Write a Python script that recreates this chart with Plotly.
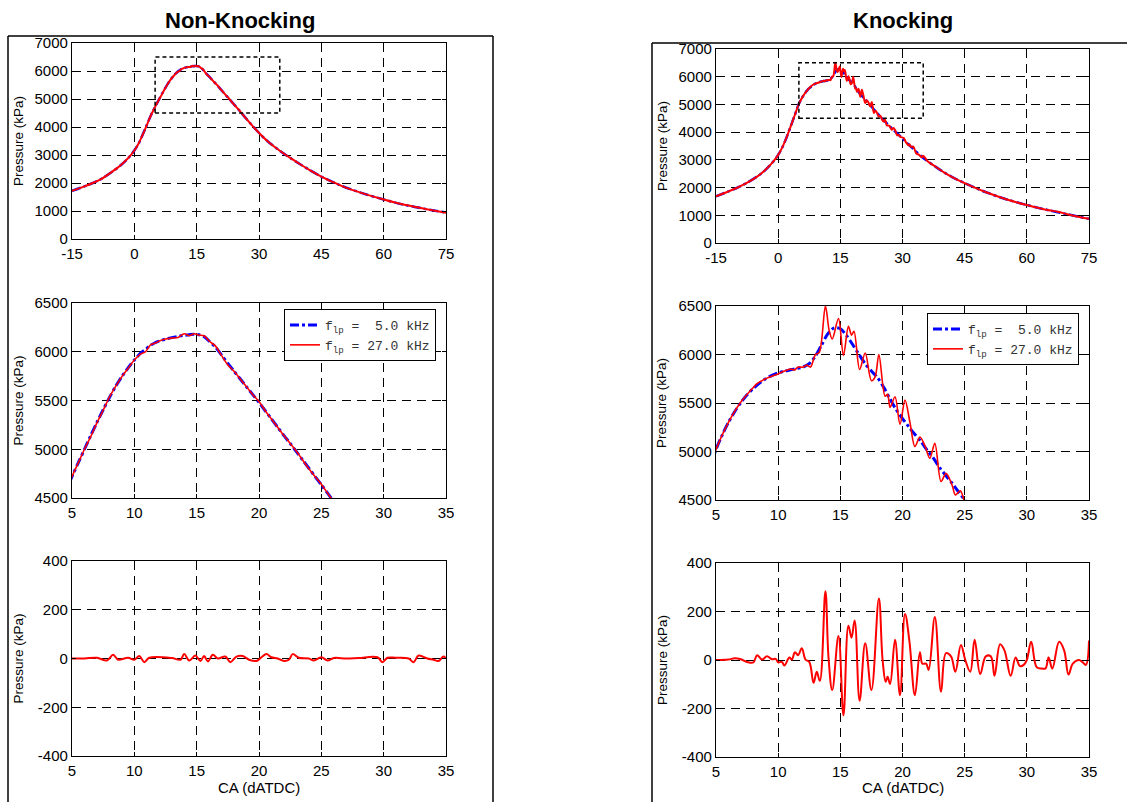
import plotly.graph_objects as go

# ---------------- DATA ----------------
# Non-knocking: crank angle and pressure (kPa)
ca_nk = [-15, -12, -10, -8, -5, -4, -3, -2, -1, 0, 1, 2, 3, 4, 5, 5.5, 6, 6.5, 7, 7.5, 8, 8.5,
         9, 9.5, 10, 10.5, 10.9, 11.3, 11.7, 12, 12.5, 13, 13.5, 14, 14.4, 14.8, 15.2, 15.6,
         16, 16.5, 17, 17.5, 18, 18.5, 19, 19.5, 20, 20.5, 21, 21.5, 22, 22.5, 23, 23.5, 24,
         24.5, 25, 25.5, 26, 27, 28, 29, 30, 32, 35, 38, 40, 42, 45, 48, 50, 55, 60, 65, 70, 75]
p_nk_5 = [1720, 1880, 2000, 2140, 2440, 2550, 2670, 2810, 2970, 3160, 3400, 3720, 4070, 4420,
          4720, 4860, 5000, 5140, 5275, 5405, 5530, 5645, 5745, 5835, 5915, 5985, 6025, 6065,
          6095, 6110, 6130, 6145, 6158, 6168, 6175, 6180, 6175, 6155, 6110, 6050, 5965, 5880,
          5800, 5720, 5640, 5560, 5480, 5395, 5310, 5225, 5140, 5060, 4975, 4890, 4805, 4720,
          4635, 4550, 4460, 4285, 4115, 3950, 3790, 3500, 3150, 2850, 2660, 2480, 2230, 2020,
          1890, 1630, 1410, 1220, 1075, 940]
p_nk_27 = [1720, 1880, 2000, 2140, 2440, 2550, 2670, 2810, 2970, 3160, 3400, 3720, 4070, 4420,
           4720, 4860, 5000, 5130, 5270, 5400, 5535, 5645, 5745, 5830, 5915, 5975, 6000, 6070,
           6090, 6110, 6130, 6140, 6145, 6185, 6165, 6185, 6170, 6165, 6110, 6060, 5960, 5865,
           5800, 5720, 5640, 5560, 5490, 5395, 5310, 5225, 5140, 5060, 4980, 4890, 4800, 4720,
           4640, 4550, 4460, 4285, 4115, 3950, 3790, 3500, 3150, 2850, 2660, 2480, 2230, 2020,
           1890, 1630, 1410, 1220, 1075, 940]

# Knocking: 5 kHz low-pass
ca_k5 = [-15, -12, -10, -8, -5, -4, -3, -2, -1, 0, 1, 2, 3, 4, 5, 5.5, 6, 6.5, 7, 7.5, 8, 8.5,
         9, 9.5, 10, 10.5, 11, 11.5, 12, 12.5, 13, 13.5, 14, 14.5, 15, 15.5, 16, 16.5, 17,
         17.5, 18, 18.5, 19, 19.5, 20, 20.5, 21, 21.5, 22, 22.5, 23, 23.5, 24, 24.5, 25, 26,
         27, 28, 30, 32, 35, 38, 40, 42, 45, 48, 50, 55, 60, 65, 70, 75]
p_k_5 = [1684, 1860, 1985, 2130, 2406, 2520, 2650, 2800, 2970, 3180, 3450, 3800, 4200, 4610,
         5020, 5170, 5300, 5410, 5505, 5585, 5650, 5705, 5750, 5785, 5810, 5828, 5842, 5856,
         5870, 5905, 5985, 6100, 6215, 6275, 6265, 6195, 6100, 6000, 5905, 5830, 5760, 5660,
         5540, 5430, 5340, 5255, 5175, 5100, 5010, 4930, 4830, 4750, 4670, 4585, 4500, 4350,
         4200, 4060, 3770, 3480, 3070, 2750, 2550, 2380, 2160, 1960, 1840, 1580, 1370, 1190,
         1030, 870]

# Knocking: 27 kHz low-pass
ca_k27 = [-15, -12, -10, -8, -5, -4, -3, -2, -1, 0, 1, 2, 3, 4, 5, 6, 7, 8, 8.3, 9, 10, 10.5,
          11, 11.3, 11.6, 12, 12.3, 12.6, 13.0, 13.3, 13.8, 14.1, 14.35, 14.85, 15.25, 15.65,
          15.9, 16.1, 16.55, 17.0, 17.5, 17.8, 18.1, 18.6, 18.8, 19.0, 19.4, 19.8, 20.2, 20.6,
          21.0, 21.4, 21.8, 22.2, 22.6, 23.1, 23.5, 24.0, 24.25, 24.65, 25.0, 25.4, 25.8,
          26.2, 26.8, 27.4, 27.8, 28.2, 28.7, 29.1, 29.5, 30.3, 30.8, 31.5, 31.7, 32.0, 32.6,
          33.3, 34.0, 34.7, 35.0, 36, 38, 40, 42, 45, 48, 50, 55, 60, 65, 67.5, 70, 75]
p_k_27 = [1684, 1860, 1985, 2130, 2406, 2520, 2650, 2800, 2970, 3180, 3450, 3800, 4200, 4610,
          5020, 5300, 5510, 5660, 5700, 5750, 5800, 5830, 5850, 5840, 5870, 5870, 5890, 5870,
          6000, 6020, 6500, 6250, 6160, 6370, 5990, 6290, 6200, 6240, 5845, 6015, 5730, 5770,
          6000, 5570, 5590, 5455, 5565, 5280, 5530, 5300, 5050, 5150, 5060, 4930, 5085, 4690,
          4775, 4650, 4552, 4595, 4480, 4380, 4450, 4250, 4230, 4085, 4150, 4080, 3885, 3900,
          3830, 3785, 3640, 3525, 3560, 3470, 3475, 3240, 3180, 3090, 3150, 2960, 2750, 2550,
          2380, 2160, 1960, 1840, 1580, 1370, 1190, 1130, 1030, 870]

# High-frequency (knock) component
ca_hp_nk = [5, 6, 7, 7.8, 8.3, 8.7, 9.5, 10, 10.4, 10.8, 11.2, 13, 13.7, 14, 14.4, 14.9, 15.3,
            15.6, 15.9, 16.3, 16.7, 17.3, 17.7, 18.2, 18.7, 19.2, 19.8, 20.2, 20.6, 21, 21.5,
            22, 22.4, 22.7, 23.2, 24, 24.4, 25, 25.5, 26, 27, 28, 29.5, 29.9, 30.3, 31, 32,
            32.4, 32.8, 33.5, 34, 34.4, 34.8, 35]
hp_nk = [0, 0, 3, -8, 15, -5, 3, -5, 10, -15, 3, 2, -5, 18, -8, 12, -10, 10, -12, 15, 0, 8,
         -15, 8, 10, -5, -10, 5, 18, 5, 0, -10, -5, 18, 3, 0, -8, 5, -8, 2, 0, 2, 5, -15, 3, 3,
         0, -15, 12, 0, -5, -10, 8, 0]

ca_hp_k = [5, 6, 6.5, 7, 7.5, 8, 8.3, 8.7, 9.1, 9.5, 9.8, 10, 10.3, 10.5, 10.9, 11.1, 11.35,
           11.6, 11.9, 12.2, 12.5, 12.85, 13.1, 13.35, 13.8, 14.05, 14.35, 14.85, 15.25, 15.65,
           15.9, 16.15, 16.55, 17.0, 17.5, 18.1, 18.4, 18.65, 18.8, 19.0, 19.4, 19.8, 20.2,
           20.55, 21.0, 21.4, 21.6, 21.9, 22.1, 22.6, 23.1, 23.5, 23.9, 24.25, 24.7, 25.05,
           25.45, 25.8, 26.25, 26.7, 27.1, 27.4, 27.85, 28.2, 28.7, 29.1, 29.45, 29.75, 30.0,
           30.35, 30.8, 31.2, 31.5, 31.75, 32.05, 32.6, 33.0, 33.35, 33.7, 34.2, 34.5, 34.75, 35.0]
hp_k = [0, 2, 7, 3, -8, -10, 20, 2, 15, 3, 5, -10, -8, -23, 10, 2, 32, 20, 48, 2, -8, -94, -48,
        -86, 283, 10, -124, 99, -228, 141, 92, 163, -168, 69, -124, 254, 0, -90, -69, -99, 83,
        -145, 190, 80, -145, 32, -15, -15, -41, 177, -131, 28, 15, -48, 62, 0, -48, 83, -58,
        15, 15, -65, 65, 40, -65, 10, -25, -20, 0, 75, -30, -35, -35, 10, -35, 75, 40, -60,
        -15, 0, -10, -20, 80]

titles = ["Non-Knocking", "Knocking"]
legend_names = ["f<sub>lp</sub>\u00a0=\u00a0\u00a05.0\u00a0kHz", "f<sub>lp</sub>\u00a0=\u00a027.0\u00a0kHz"]
y_title = "Pressure (kPa)"
x_title = "CA (dATDC)"
ticks_top_x = [-15, 0, 15, 30, 45, 60, 75]
ticks_top_y = [0, 1000, 2000, 3000, 4000, 5000, 6000, 7000]
ticks_mid_x = [5, 10, 15, 20, 25, 30, 35]
ticks_mid_y = [4500, 5000, 5500, 6000, 6500]
ticks_bot_y = [-400, -200, 0, 200, 400]

# ---------------- LAYOUT GEOMETRY (pixels) ----------------
W, H = 1127, 802
def fx(px): return px / W
def fy(py): return 1 - py / H

BLUE = "#0000ff"
RED = "#ff0000"

fig = go.Figure()

def add(x, y, ax, color, width, dash, smooth, name=None, legend=None):
    fig.add_trace(go.Scatter(
        x=x, y=y, mode="lines", xaxis="x" + ax, yaxis="y" + ax,
        line=dict(color=color, width=width, dash=dash, shape="spline", smoothing=smooth),
        name=name, showlegend=legend is not None, legend=legend, hoverinfo="skip"))

# left column
add(ca_nk, p_nk_5, "", BLUE, 2.5, "dashdot", 0.9)
add(ca_nk, p_nk_27, "", RED, 2, "solid", 0.9)
add(ca_nk, p_nk_5, "2", BLUE, 3, "dashdot", 0.8, legend_names[0], "legend")
add(ca_nk, p_nk_27, "2", RED, 1.6, "solid", 0.8, legend_names[1], "legend")
add(ca_hp_nk, hp_nk, "3", RED, 2, "solid", 1.0)
# right column
add(ca_k5, p_k_5, "4", BLUE, 2.5, "dashdot", 0.9)
add(ca_k27, p_k_27, "4", RED, 2, "solid", 0.8)
add(ca_k5, p_k_5, "5", BLUE, 3, "dashdot", 0.8, legend_names[0], "legend2")
add(ca_k27, p_k_27, "5", RED, 1.6, "solid", 0.9, legend_names[1], "legend2")
add(ca_hp_k, hp_k, "6", RED, 2, "solid", 1.1)

font_fam = "Liberation Sans, Arial, Helvetica, sans-serif"
axis_common = dict(
    showline=True, linecolor="black", linewidth=1.2, mirror="ticks",
    ticks="inside", ticklen=4, tickcolor="black", tickwidth=1,
    showgrid=True, gridcolor="black", gridwidth=1, griddash="9px,6px",
    zeroline=False, tickfont=dict(family=font_fam, size=15, color="black"),
    fixedrange=True, automargin=False, tickmode="array",
)

def labels(vals):
    return [str(v) for v in vals]

# pixel extents: (x0, x1, ytop, ybottom)
panels = {
    "": (72, 446, 43, 239), "2": (72, 446, 303, 498), "3": (72, 446, 561, 756),
    "4": (716, 1089, 49, 243), "5": (716, 1089, 306, 500), "6": (716, 1089, 563, 757),
}
ranges = {
    "": ([-15, 75], [0, 7000], ticks_top_x, ticks_top_y),
    "2": ([5, 35], [4500, 6500], ticks_mid_x, ticks_mid_y),
    "3": ([5, 35], [-400, 400], ticks_mid_x, ticks_bot_y),
    "4": ([-15, 75], [0, 7000], ticks_top_x, ticks_top_y),
    "5": ([5, 35], [4500, 6500], ticks_mid_x, ticks_mid_y),
    "6": ([5, 35], [-400, 400], ticks_mid_x, ticks_bot_y),
}
layout_axes = {}
for k, (x0, x1, yt, yb) in panels.items():
    xr, yr, tx, ty = ranges[k]
    layout_axes["xaxis" + k] = dict(axis_common, domain=[fx(x0), fx(x1)], range=xr,
                                    tickvals=tx, ticktext=labels(tx), anchor="y" + k,
                                    ticklabelstandoff=1)
    layout_axes["yaxis" + k] = dict(axis_common, domain=[fy(yb), fy(yt)], range=yr,
                                    tickvals=ty, ticktext=labels(ty), anchor="x" + k)

annotations = []
# column titles
annotations.append(dict(text="<b>" + titles[0] + "</b>", x=fx(240), y=fy(21), xref="paper",
                        yref="paper", showarrow=False, xanchor="center", yanchor="middle",
                        font=dict(family=font_fam, size=22, color="black")))
annotations.append(dict(text="<b>" + titles[1] + "</b>", x=fx(903), y=fy(21), xref="paper",
                        yref="paper", showarrow=False, xanchor="center", yanchor="middle",
                        font=dict(family=font_fam, size=22, color="black")))
for k, (x0, x1, yt, yb) in panels.items():
    tx = 18 if x0 < 500 else 662
    annotations.append(dict(text=y_title, x=fx(tx), y=fy((yt + yb) / 2), xref="paper",
                            yref="paper", showarrow=False, textangle=-90,
                            xanchor="center", yanchor="middle",
                            font=dict(family=font_fam, size=13.5, color="black")))
for k in ["3", "6"]:
    x0, x1, yt, yb = panels[k]
    annotations.append(dict(text=x_title, x=fx((x0 + x1) / 2), y=fy(787), xref="paper",
                            yref="paper", showarrow=False, xanchor="center", yanchor="middle",
                            font=dict(family=font_fam, size=15, color="black")))

shapes = []
# dashed zoom rectangles
for k in ["", "4"]:
    shapes.append(dict(type="rect", xref="x" + k, yref="y" + k, x0=5, x1=35, y0=4500, y1=6500,
                       line=dict(color="black", width=1.5, dash="4px,3px"), layer="above"))
# outer frames
frame = dict(color="black", width=1.5)
for (a, b, c, d) in [(8, 36, 8, 802), (8, 36, 493, 36), (493, 36, 493, 802),
                     (652, 43, 652, 802), (652, 43, 1127, 43)]:
    shapes.append(dict(type="line", xref="paper", yref="paper", x0=fx(a), y0=fy(b),
                       x1=fx(c), y1=fy(d), line=frame))

leg_common = dict(bgcolor="white", bordercolor="black", borderwidth=1,
                  font=dict(family="Liberation Mono, Courier New, monospace", size=13,
                            color="#333333"),
                  xanchor="left", yanchor="top", tracegroupgap=0, itemwidth=30)

fig.update_layout(
    width=W, height=H, margin=dict(l=0, r=0, t=0, b=0, pad=0, autoexpand=False),
    paper_bgcolor="white", plot_bgcolor="white",
    annotations=annotations, shapes=shapes,
    legend=dict(leg_common, x=fx(284), y=fy(309)),
    legend2=dict(leg_common, x=fx(927), y=fy(313)),
    **layout_axes,
)

fig.write_html("out.html")
